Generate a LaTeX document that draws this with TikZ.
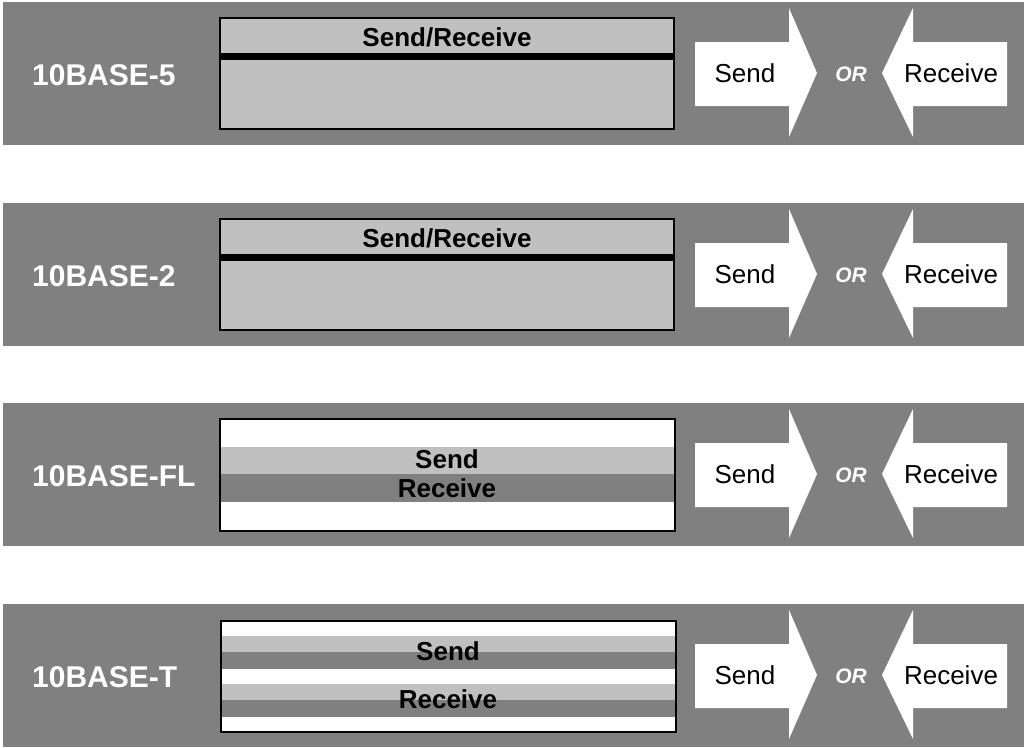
\documentclass[tikz,border=0pt]{standalone}
\usepackage{fontspec}
\setmainfont{Liberation Sans}
\definecolor{bandgray}{HTML}{808080}
\definecolor{wiregray}{HTML}{C0C0C0}
\tikzset{
  band/.style={fill=bandgray},
  frame/.style={draw=black, line width=1.6pt},
  medialabel/.style={font=\fontsize{30}{32}\selectfont\bfseries, text=white, anchor=west, inner sep=0pt},
  wiretext/.style={font=\fontsize{26}{28}\selectfont\bfseries, text=black, inner sep=0pt},
  arrowtext/.style={font=\fontsize{26}{28}\selectfont, text=black, inner sep=0pt},
  ortext/.style={font=\fontsize{21}{23}\selectfont\bfseries\itshape, text=white, inner sep=0pt},
  flow/.style={fill=white}
}
% one grey band: media name, the two direction arrows and the OR between them
\newcommand{\mediaband}[3]{%
  \fill[band] (3,0) rectangle (1024,143);
  \node[medialabel] (#1lbl) at (32,73) {#2};
  \fill[flow] (695,40) -- (789,40) -- (789,6) -- (817,71) -- (789,135)
              -- (789,104) -- (695,104) -- cycle;
  \node[arrowtext] (#1snd) at (745,71) {Send};
  \fill[flow] (1007,40) -- (913,40) -- (913,6) -- (882,71) -- (913,135)
              -- (913,104) -- (1007,104) -- cycle;
  \node[arrowtext] (#1rcv) at (951,71) {Receive};
  \node[ortext] (#1or) at (851,72) {OR};
  #3
}
\begin{document}
\begin{tikzpicture}[x=1pt, y=-1pt]
  \useasboundingbox (0,0) rectangle (1024,747);

  % 10BASE-5: shared coax
  \begin{scope}[yshift=-2pt]
    \mediaband{a}{10BASE-5}{%
      \fill[wiregray] (220,16) rectangle (674,127);
      \fill[black] (220,51) rectangle (674,58);
      \node[wiretext] (ahdr) at (447,35) {Send/Receive};
      \draw[frame] (220,16) rectangle (674,127);
    }
  \end{scope}

  % 10BASE-2: shared thin coax
  \begin{scope}[yshift=-203pt]
    \mediaband{b}{10BASE-2}{%
      \fill[wiregray] (220,16) rectangle (674,127);
      \fill[black] (220,51) rectangle (674,58);
      \node[wiretext] (bhdr) at (447,35) {Send/Receive};
      \draw[frame] (220,16) rectangle (674,127);
    }
  \end{scope}

  % 10BASE-FL: separate send and receive fibres
  \begin{scope}[yshift=-403pt]
    \mediaband{c}{10BASE-FL}{%
      \fill[white] (220,16) rectangle (675,128);
      \fill[wiregray] (220,44) rectangle (675,71);
      \fill[bandgray] (220,71) rectangle (675,99);
      \node[wiretext] (csnd) at (447,56) {Send};
      \node[wiretext] (crcv) at (447,85) {Receive};
      \draw[frame] (220,16) rectangle (675,128);
    }
  \end{scope}

  % 10BASE-T: twisted pairs
  \begin{scope}[yshift=-604pt]
    \mediaband{d}{10BASE-T}{%
      \fill[white] (221,17) rectangle (676,128);
      \fill[wiregray] (221,32) rectangle (676,48);
      \fill[bandgray] (221,48) rectangle (676,65);
      \fill[wiregray] (221,80) rectangle (676,96);
      \fill[bandgray] (221,96) rectangle (676,113);
      \node[wiretext] (dsnd) at (448,47) {Send};
      \node[wiretext] (drcv) at (448,95) {Receive};
      \draw[frame] (221,17) rectangle (676,128);
    }
  \end{scope}
\end{tikzpicture}
\end{document}
